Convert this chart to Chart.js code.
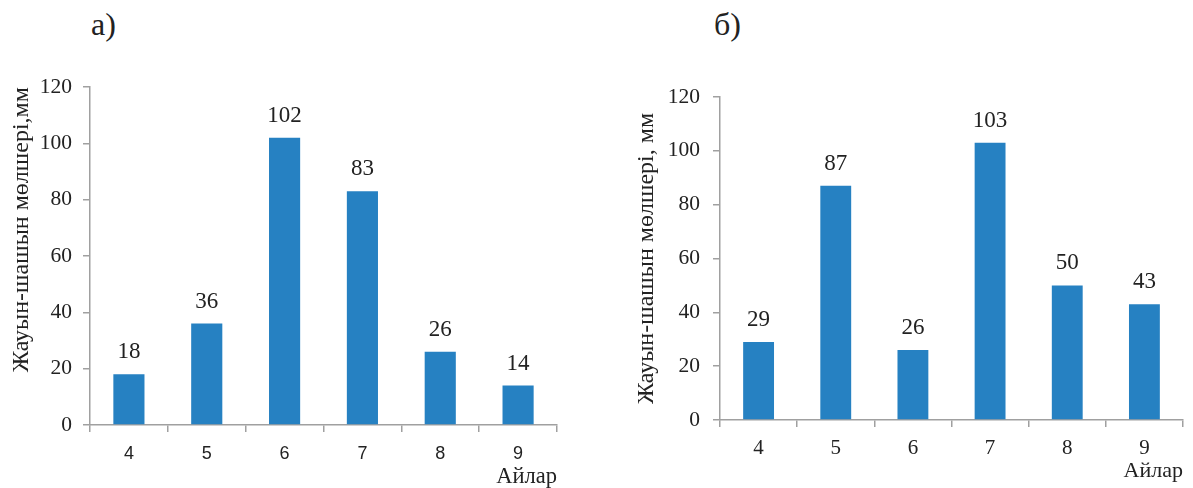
<!DOCTYPE html>
<html>
<head>
<meta charset="utf-8">
<script src="https://cdn.jsdelivr.net/npm/chart.js@4/dist/chart.umd.min.js"></script>
<style>
  html, body { margin: 0; padding: 0; background: #fff; }
  #wrap { position: relative; width: 1193px; height: 488px; overflow: hidden; }
  .box { position: absolute; top: 0; height: 488px; }
  .tag { position: absolute; font-family: "Liberation Serif", serif; font-size: 32px; color: #222; line-height: 1; }
</style>
</head>
<body>
<div id="wrap">
  <div class="tag" style="left:91px;top:8px">а)</div>
  <div class="tag" style="left:714px;top:8px">б)</div>
  <div class="box" style="left:0;width:600px"><canvas id="chartA"></canvas></div>
  <div class="box" style="left:600px;width:593px"><canvas id="chartB"></canvas></div>
</div>
<script>
  // months (categories) and rainfall, mm
  const months = ['4', '5', '6', '7', '8', '9'];
  const rainA = [18, 36, 102, 83, 26, 14];
  const rainB = [29, 87, 26, 103, 50, 43];
  const yTitleA = 'Жауын-шашын мөлшері,мм';
  const yTitleB = 'Жауын-шашын мөлшері, мм';
  const xTitle = 'Айлар';

  const BAR = '#2681C2';
  const AXIS = '#a0a0a0';
  const TEXT = '#222';
  const SERIF = '"Liberation Serif", "Times New Roman", serif';
  const SANS = '"Liberation Sans", Arial, sans-serif';

  // value labels above bars
  const valueLabels = {
    id: 'valueLabels',
    afterDatasetsDraw(chart) {
      const ctx = chart.ctx;
      const meta = chart.getDatasetMeta(0);
      const vals = chart.data.datasets[0].data;
      ctx.save();
      ctx.font = '23px ' + SERIF;
      ctx.fillStyle = TEXT;
      ctx.textAlign = 'center';
      ctx.textBaseline = 'alphabetic';
      meta.data.forEach((bar, i) => {
        ctx.fillText(String(vals[i]), bar.x, bar.y - 16);
      });
      ctx.restore();
    }
  };

  function makeChart(id, data, opt) {
    const ctx = document.getElementById(id).getContext('2d');
    return new Chart(ctx, {
      type: 'bar',
      data: {
        labels: months,
        datasets: [{
          data: data,
          backgroundColor: BAR,
          borderWidth: 0,
          categoryPercentage: 1,
          barPercentage: 0.4
        }]
      },
      options: {
        responsive: true,
        maintainAspectRatio: false,
        animation: false,
        devicePixelRatio: 1,
        layout: { padding: { top: opt.top, right: opt.right, left: 0, bottom: 0 } },
        plugins: { legend: { display: false }, tooltip: { enabled: false } },
        scales: {
          x: {
            grid: { display: true, drawOnChartArea: false, drawTicks: true, tickLength: 7, color: AXIS, lineWidth: 1.5 },
            border: { display: true, color: AXIS, width: 1.5 },
            ticks: { font: { family: opt.xFont, size: opt.xSize }, color: TEXT, padding: opt.xPad, maxRotation: 0 },
            title: {
              display: true, text: xTitle, align: 'end', color: TEXT,
              font: { family: SERIF, size: opt.xtSize, lineHeight: 1 },
              padding: { top: 0, bottom: opt.xtPad }
            },
            afterFit: (s) => { s.height = opt.xHeight; }
          },
          y: {
            min: 0, max: 120,
            ticks: { stepSize: 20, font: { family: SERIF, size: 21.5 }, color: TEXT, padding: opt.yPad },
            grid: { display: true, drawOnChartArea: false, drawTicks: true, tickLength: 7, color: AXIS, lineWidth: 1.5 },
            border: { display: true, color: AXIS, width: 1.5 },
            title: {
              display: true, text: opt.yTitle, align: opt.yAlign, color: TEXT,
              font: { family: SERIF, size: 24, lineHeight: 1.2 },
              padding: { top: opt.ytPad, bottom: 0 }
            },
            afterFit: (s) => { s.width = opt.yWidth; }
          }
        }
      },
      plugins: [valueLabels]
    });
  }

  makeChart('chartA', rainA, {
    top: 87, right: 43, xHeight: 63, yWidth: 90,
    xFont: SANS, xSize: 18, xPad: 11, xtSize: 22.5, xtPad: 0,
    yPad: 11, yTitle: yTitleA, yAlign: 'end', ytPad: 7.5
  });

  makeChart('chartB', rainB, {
    top: 97, right: 10, xHeight: 68, yWidth: 120,
    xFont: SERIF, xSize: 21, xPad: 9, xtSize: 22, xtPad: 6,
    yPad: 13, yTitle: yTitleB, yAlign: 'center', ytPad: 32.5
  });
</script>
</body>
</html>
